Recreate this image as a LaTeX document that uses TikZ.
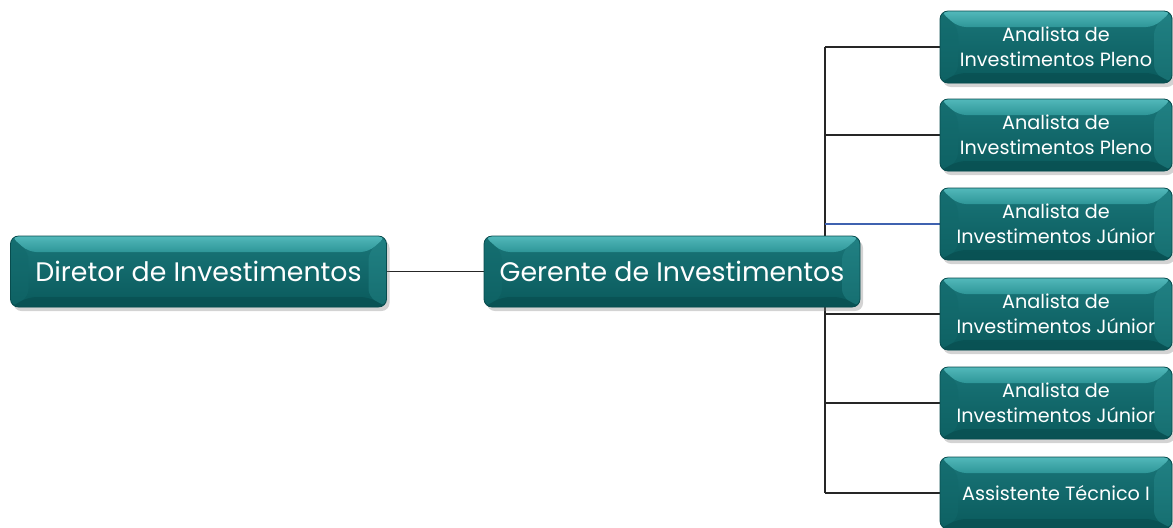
\documentclass[tikz,border=0pt]{standalone}
\usepackage{fontspec}
\setmainfont{Poppins}
\usetikzlibrary{shadows,backgrounds,positioning}
\definecolor{boxDark}{HTML}{0A5A5C}
\definecolor{boxMid}{HTML}{1A7679}
\definecolor{boxTop}{HTML}{52B8BA}
\definecolor{boxTopLow}{HTML}{2E9698}
\definecolor{boxSide}{HTML}{12696B}
\definecolor{boxBot}{HTML}{084C4E}
\definecolor{lineBlue}{HTML}{3F62B0}
\colorlet{lineColor}{black!85}

\tikzset{
  bevel/.style={
    rounded corners=4pt, draw=boxBot, line width=0.4pt,
    top color=boxMid, bottom color=boxDark, text=white,
    drop shadow={shadow xshift=1.5pt,shadow yshift=-2pt,opacity=.35},
    path picture={
      \fill[boxSide,opacity=.5] (path picture bounding box.north west) -- ([xshift=9pt,yshift=-8pt]path picture bounding box.north west)
        -- ([xshift=9pt,yshift=5pt]path picture bounding box.south west) -- (path picture bounding box.south west) -- cycle;
      \fill[boxTopLow,opacity=.35] (path picture bounding box.north east) -- ([xshift=-9pt,yshift=-8pt]path picture bounding box.north east)
        -- ([xshift=-9pt,yshift=5pt]path picture bounding box.south east) -- (path picture bounding box.south east) -- cycle;
      \shade[top color=boxTop, bottom color=boxTopLow] (path picture bounding box.north west) -- (path picture bounding box.north east)
        -- ([xshift=-9pt,yshift=-8pt]path picture bounding box.north east)
        -- ([xshift=9pt,yshift=-8pt]path picture bounding box.north west) -- cycle;
      \fill[boxBot,opacity=.6] (path picture bounding box.south west) -- (path picture bounding box.south east)
        -- ([xshift=-9pt,yshift=5pt]path picture bounding box.south east)
        -- ([xshift=9pt,yshift=5pt]path picture bounding box.south west) -- cycle;
    }},
  bigbox/.style={bevel, minimum width=188pt, minimum height=35.5pt, font=\fontsize{13.4}{16}\selectfont},
  smallbox/.style={bevel, minimum width=116pt, minimum height=36pt, align=center, inner sep=1pt,
    font=\fontsize{9.6}{12.5}\selectfont},
  link/.style={lineColor, line width=0.8pt}
}

\begin{document}
\begin{tikzpicture}[x=0.5pt,y=-0.5pt]
  \useasboundingbox (0,0) rectangle (1173,527);
  % top level
  \node[bigbox] (dir) at (198.5,271.5) {Diretor de Investimentos};
  \node[bigbox] (ger) at (672,271.5) {Gerente de Investimentos};
  % analysts
  \node[smallbox] (an1) at (1056,47) {Analista de\\Investimentos Pleno};
  \node[smallbox] (an2) at (1056,135) {Analista de\\Investimentos Pleno};
  \node[smallbox] (an3) at (1056,224) {Analista de\\Investimentos Júnior};
  \node[smallbox] (an4) at (1056,314) {Analista de\\Investimentos Júnior};
  \node[smallbox] (an5) at (1056,403) {Analista de\\Investimentos Júnior};
  \node[smallbox] (ast) at (1056,493) {Assistente Técnico I};
  \coordinate (bus) at (825,271.5);
  \begin{scope}[on background layer]
    \draw[link] (dir) -- (ger);
    \draw[link] (bus |- an1) -- (bus |- ast);
    \foreach \n in {an1,an2,an4,an5,ast}
      \draw[link] (bus |- \n.west) -- (\n.west);
    \draw[lineBlue, line width=0.8pt] (bus |- an3.west) -- (an3.west);
  \end{scope}
\end{tikzpicture}
\end{document}
